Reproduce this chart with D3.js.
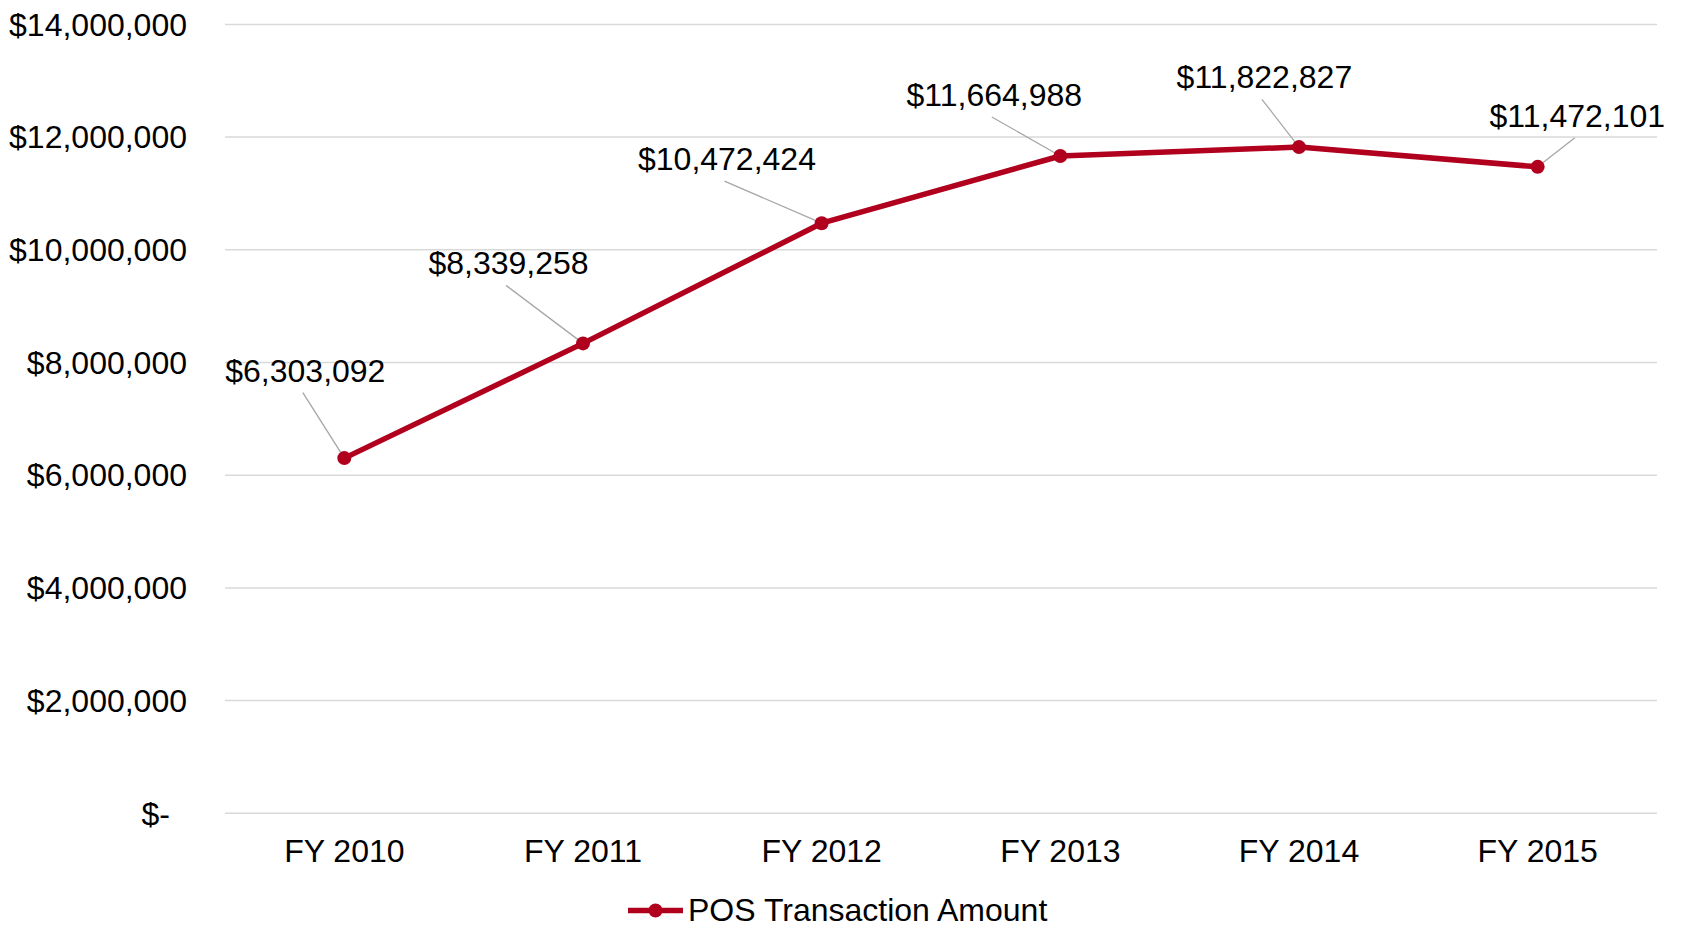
<!DOCTYPE html>
<html>
<head>
<meta charset="utf-8">
<script src="https://cdn.jsdelivr.net/npm/d3@7"></script>
<style>
  html, body { margin: 0; padding: 0; background: #fff; }
  svg { display: block; font-family: "Liberation Sans", Arial, sans-serif; }
</style>
</head>
<body>
<svg id="chart" width="1682" height="926"></svg>
<script>
// ---- data ----
const categories = ["FY 2010", "FY 2011", "FY 2012", "FY 2013", "FY 2014", "FY 2015"];
const values = [6303092, 8339258, 10472424, 11664988, 11822827, 11472101];
const yTicks = [0, 2000000, 4000000, 6000000, 8000000, 10000000, 12000000, 14000000];
const seriesName = "POS Transaction Amount";

// label placement offsets (layout only, relative to each point)
const labelDx = [-39, -74.5, -94.7, -66, -34.6, 39.7];
const labelDy = [-76.4, -69, -53, -50, -58.8, -40.2];

// ---- layout ----
const W = 1682, H = 926;
const plot = { left: 225, right: 1657, top: 24.4, bottom: 813.3 };
const color = "#b0001e";
const fontSize = 32;

const svg = d3.select("#chart");

const x = d3.scaleBand().domain(categories).range([plot.left, plot.right]).padding(0);
const y = d3.scaleLinear().domain([0, 14000000]).range([plot.bottom, plot.top]);
const cx = c => x(c) + x.bandwidth() / 2;

// gridlines
svg.append("g").selectAll("line").data(yTicks).join("line")
  .attr("x1", plot.left).attr("x2", plot.right)
  .attr("y1", d => y(d)).attr("y2", d => y(d))
  .attr("stroke", "#d9d9d9").attr("stroke-width", 1.5);

// y axis labels
const fmt = d => d === 0 ? "$-" : "$" + d3.format(",")(d);
svg.append("g").selectAll("text").data(yTicks).join("text")
  .attr("x", d => d === 0 ? 170 : 187)
  .attr("y", d => y(d))
  .attr("dy", "0.35em")
  .attr("text-anchor", "end")
  .attr("font-size", fontSize)
  .attr("fill", "#000")
  .text(fmt);

// x axis labels
svg.append("g").selectAll("text").data(categories).join("text")
  .attr("x", d => cx(d))
  .attr("y", 861.5)
  .attr("text-anchor", "middle")
  .attr("font-size", fontSize)
  .attr("fill", "#000")
  .text(d => d);

const pts = categories.map((c, i) => ({ c, v: values[i], i }));

// leader lines
svg.append("g").selectAll("line").data(pts).join("line")
  .attr("x1", d => cx(d.c))
  .attr("y1", d => y(d.v))
  .attr("x2", d => cx(d.c) + labelDx[d.i] - 2.5)
  .attr("y2", d => y(d.v) + labelDy[d.i] + 11)
  .attr("stroke", "#a6a6a6").attr("stroke-width", 1.3);

// line
const line = d3.line().x(d => cx(d.c)).y(d => y(d.v));
svg.append("path").datum(pts)
  .attr("d", line)
  .attr("fill", "none")
  .attr("stroke", color)
  .attr("stroke-width", 5.5)
  .attr("stroke-linejoin", "round");

// markers
svg.append("g").selectAll("circle").data(pts).join("circle")
  .attr("cx", d => cx(d.c)).attr("cy", d => y(d.v))
  .attr("r", 7).attr("fill", color);

// data labels
svg.append("g").selectAll("text").data(pts).join("text")
  .attr("x", d => cx(d.c) + labelDx[d.i])
  .attr("y", d => y(d.v) + labelDy[d.i])
  .attr("text-anchor", "middle")
  .attr("font-size", fontSize)
  .attr("fill", "#000")
  .text(d => "$" + d3.format(",")(d.v));

// legend
const lg = svg.append("g");
lg.append("line").attr("x1", 628).attr("x2", 683).attr("y1", 910.5).attr("y2", 910.5)
  .attr("stroke", color).attr("stroke-width", 5.5);
lg.append("circle").attr("cx", 655.5).attr("cy", 910.5).attr("r", 7).attr("fill", color);
lg.append("text").attr("x", 688).attr("y", 920.5)
  .attr("font-size", fontSize).attr("fill", "#000").text(seriesName);
</script>
</body>
</html>
